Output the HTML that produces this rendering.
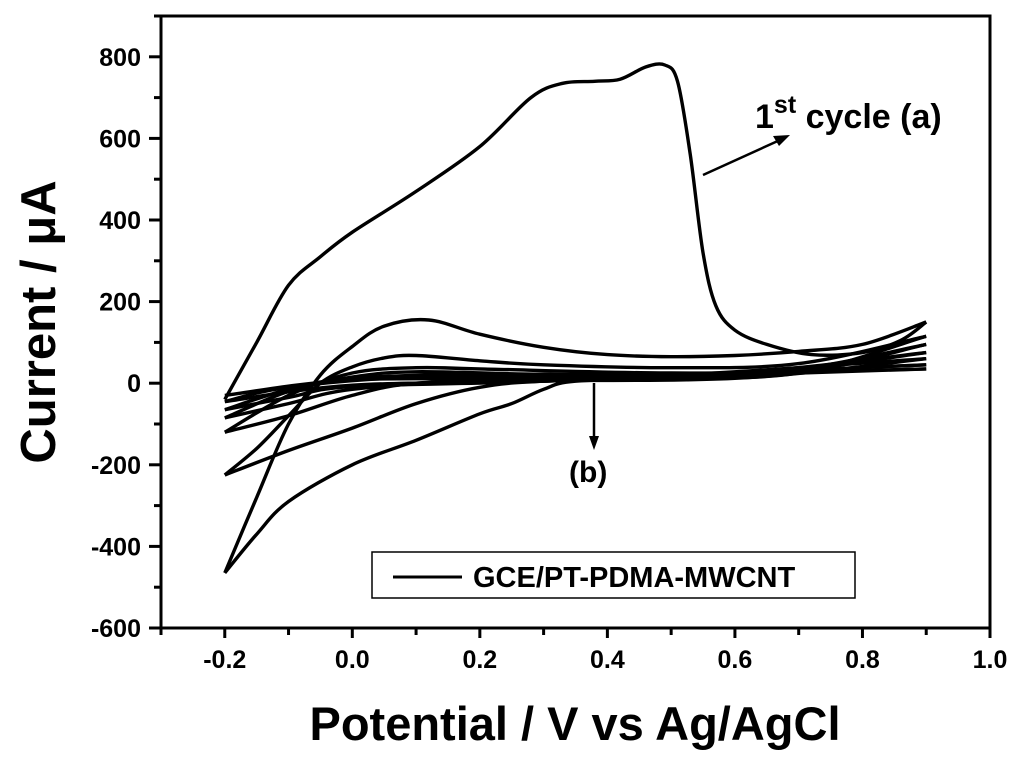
<!DOCTYPE html>
<html><head><meta charset="utf-8"><style>
body{margin:0;background:#fff;}
svg text{font-family:"Liberation Sans",Arial,sans-serif;font-weight:bold;fill:#000;}
</style></head><body>
<svg id="chart" width="1024" height="766" viewBox="0 0 1024 766" xmlns="http://www.w3.org/2000/svg">
<g id="axes"></g>
<g id="series"></g>
<text transform="translate(55,322) rotate(-90)" text-anchor="middle" font-size="49">Current / μA</text>
<text x="575" y="740" text-anchor="middle" font-size="47">Potential / V vs Ag/AgCl</text>
<g>
<text x="755" y="128" font-size="34">1<tspan font-size="25" dy="-15">st</tspan><tspan dy="15"> cycle (a)</tspan></text>
<line x1="703" y1="175" x2="780" y2="140" stroke="#000" stroke-width="2.5"/>
<polygon points="790,135 773,136 779,146" fill="#000"/>
</g>
<g>
<line x1="594" y1="383" x2="594" y2="440" stroke="#000" stroke-width="2.5"/>
<polygon points="594,450 589,436 599,436" fill="#000"/>
<text x="569" y="482" font-size="30">(b)</text>
</g>
<g>
<rect x="372" y="552" width="483" height="46" fill="#fff" stroke="#000" stroke-width="1.5"/>
<line x1="393" y1="577" x2="462" y2="577" stroke="#000" stroke-width="3"/>
<text x="473" y="587" font-size="29">GCE/PT-PDMA-MWCNT</text>
</g>
</svg>
<script>
const xTicks=[-0.2,0.0,0.2,0.4,0.6,0.8,1.0];
const xTickLabels=["-0.2","0.0","0.2","0.4","0.6","0.8","1.0"];
const yTicks=[-600,-400,-200,0,200,400,600,800];
const yTickLabels=["-600","-400","-200","0","200","400","600","800"];
const cycle1V=[-0.2,-0.15,-0.1,-0.05,0.0,0.1,0.2,0.28,0.33,0.38,0.42,0.46,0.49,0.51,0.53,0.55,0.57,0.6,0.65,0.72,0.8,0.86,0.9];
const cycle1I=[-40,100,240,310,370,470,580,700,735,740,745,775,780,740,560,320,190,130,95,70,75,105,150];
const cycle1RV=[0.9,0.8,0.7,0.6,0.5,0.4,0.3,0.2,0.12,0.05,0.0,-0.05,-0.1,-0.15,-0.2];
const cycle1RI=[150,95,78,68,65,70,88,120,155,140,90,20,-100,-280,-465];
const cycle2V=[-0.2,-0.15,-0.1,0.0,0.1,0.2,0.25,0.3,0.35,0.5,0.7,0.9];
const cycle2I=[-465,-370,-290,-200,-140,-75,-50,-15,5,12,25,115];
const cycle2RV=[0.9,0.7,0.5,0.3,0.2,0.1,0.05,0.0,-0.05,-0.1,-0.15,-0.2];
const cycle2RI=[115,48,38,45,55,68,62,40,0,-80,-160,-225];
const cycle3V=[-0.2,-0.1,0.0,0.1,0.2,0.3,0.5,0.7,0.9];
const cycle3I=[-225,-165,-110,-50,-10,5,12,25,95];
const cycle3RV=[0.9,0.7,0.5,0.2,0.1,0.0,-0.1,-0.2];
const cycle3RI=[95,35,25,35,38,25,-30,-120];
const cycle4V=[-0.2,-0.1,0.0,0.1,0.3,0.6,0.9];
const cycle4I=[-120,-80,-30,0,8,15,75];
const cycle4RV=[0.9,0.6,0.3,0.1,0.0,-0.1,-0.2];
const cycle4RI=[75,25,22,28,15,-20,-85];
const cycle5V=[-0.2,-0.1,0.0,0.2,0.6,0.9];
const cycle5I=[-85,-50,-15,5,12,60];
const cycle5RV=[0.9,0.5,0.2,0.0,-0.1,-0.2];
const cycle5RI=[60,20,22,12,-15,-65];
const cycle6V=[-0.2,-0.1,0.0,0.3,0.9];
const cycle6I=[-65,-35,-8,5,45];
const cycle6RV=[0.9,0.4,0.1,-0.1,-0.2];
const cycle6RI=[45,15,15,-10,-45];
const cycle7V=[-0.2,0.0,0.3,0.9];
const cycle7I=[-45,-5,5,35];
const cycle7RV=[0.9,0.3,0.0,-0.2];
const cycle7RI=[35,12,8,-30];

const NS="http://www.w3.org/2000/svg";
const X0=161,X1=990,Y0=16,Y1=628;
const YMIN=-600,YMAX=900;
function xs(v){return X0+(v-(-0.3))/(1.3)*(X1-X0);}
function ys(i){return Y1-(i-YMIN)/(YMAX-YMIN)*(Y1-Y0);}
const axes=document.getElementById('axes');
function mk(tag,attrs,parent){const e=document.createElementNS(NS,tag);for(const k in attrs)e.setAttribute(k,attrs[k]);parent.appendChild(e);return e;}
const frame=mk('rect',{x:X0,y:Y0,width:X1-X0,height:Y1-Y0,fill:'none',stroke:'#000','stroke-width':3},axes);


xTicks.forEach((v,k)=>{
  const t=mk('line',{x1:xs(v),x2:xs(v),y1:Y1,y2:Y1+10,stroke:'#000','stroke-width':3},axes);
  
  
  const m=mk('line',{x1:xs(v-0.1),x2:xs(v-0.1),y1:Y1,y2:Y1+7,stroke:'#000','stroke-width':3},axes);
  
  
  const l=mk('text',{x:xs(v),y:Y1+40,'text-anchor':'middle','font-size':25},axes);
  l.textContent=xTickLabels[k];
  
  
});
yTicks.forEach((v,k)=>{
  const t=mk('line',{x1:X0-12,x2:X0,y1:ys(v),y2:ys(v),stroke:'#000','stroke-width':3},axes);
  
  
  const m=mk('line',{x1:X0-7,x2:X0,y1:ys(v+100),y2:ys(v+100),stroke:'#000','stroke-width':3},axes);
  
  
  const l=mk('text',{x:X0-20,y:ys(v)+9,'text-anchor':'end','font-size':25},axes);
  l.textContent=yTickLabels[k];
  
  
});
function smooth(pts){
  let d='M'+pts[0][0].toFixed(1)+','+pts[0][1].toFixed(1);
  for(let i=0;i<pts.length-1;i++){
    const p0=pts[Math.max(0,i-1)],p1=pts[i],p2=pts[i+1],p3=pts[Math.min(pts.length-1,i+2)];
    const c1=[p1[0]+(p2[0]-p0[0])/6,p1[1]+(p2[1]-p0[1])/6];
    const c2=[p2[0]-(p3[0]-p1[0])/6,p2[1]-(p3[1]-p1[1])/6];
    d+='C'+c1.map(n=>n.toFixed(1)).join(',')+' '+c2.map(n=>n.toFixed(1)).join(',')+' '+p2[0].toFixed(1)+','+p2[1].toFixed(1);
  }
  return d;
}
const ser=document.getElementById('series');
const branches=[[cycle1V,cycle1I],[cycle1RV,cycle1RI],[cycle2V,cycle2I],[cycle2RV,cycle2RI],[cycle3V,cycle3I],[cycle3RV,cycle3RI],[cycle4V,cycle4I],[cycle4RV,cycle4RI],[cycle5V,cycle5I],[cycle5RV,cycle5RI],[cycle6V,cycle6I],[cycle6RV,cycle6RI],[cycle7V,cycle7I],[cycle7RV,cycle7RI]];
branches.forEach((b,k)=>{
  const pts=b[0].map((v,i)=>[xs(v),ys(b[1][i])]);
  const p=mk('path',{d:smooth(pts),fill:'none',stroke:'#000','stroke-width':3.4,'stroke-linejoin':'round'},ser);
  
  
});
</script>
</body></html>
